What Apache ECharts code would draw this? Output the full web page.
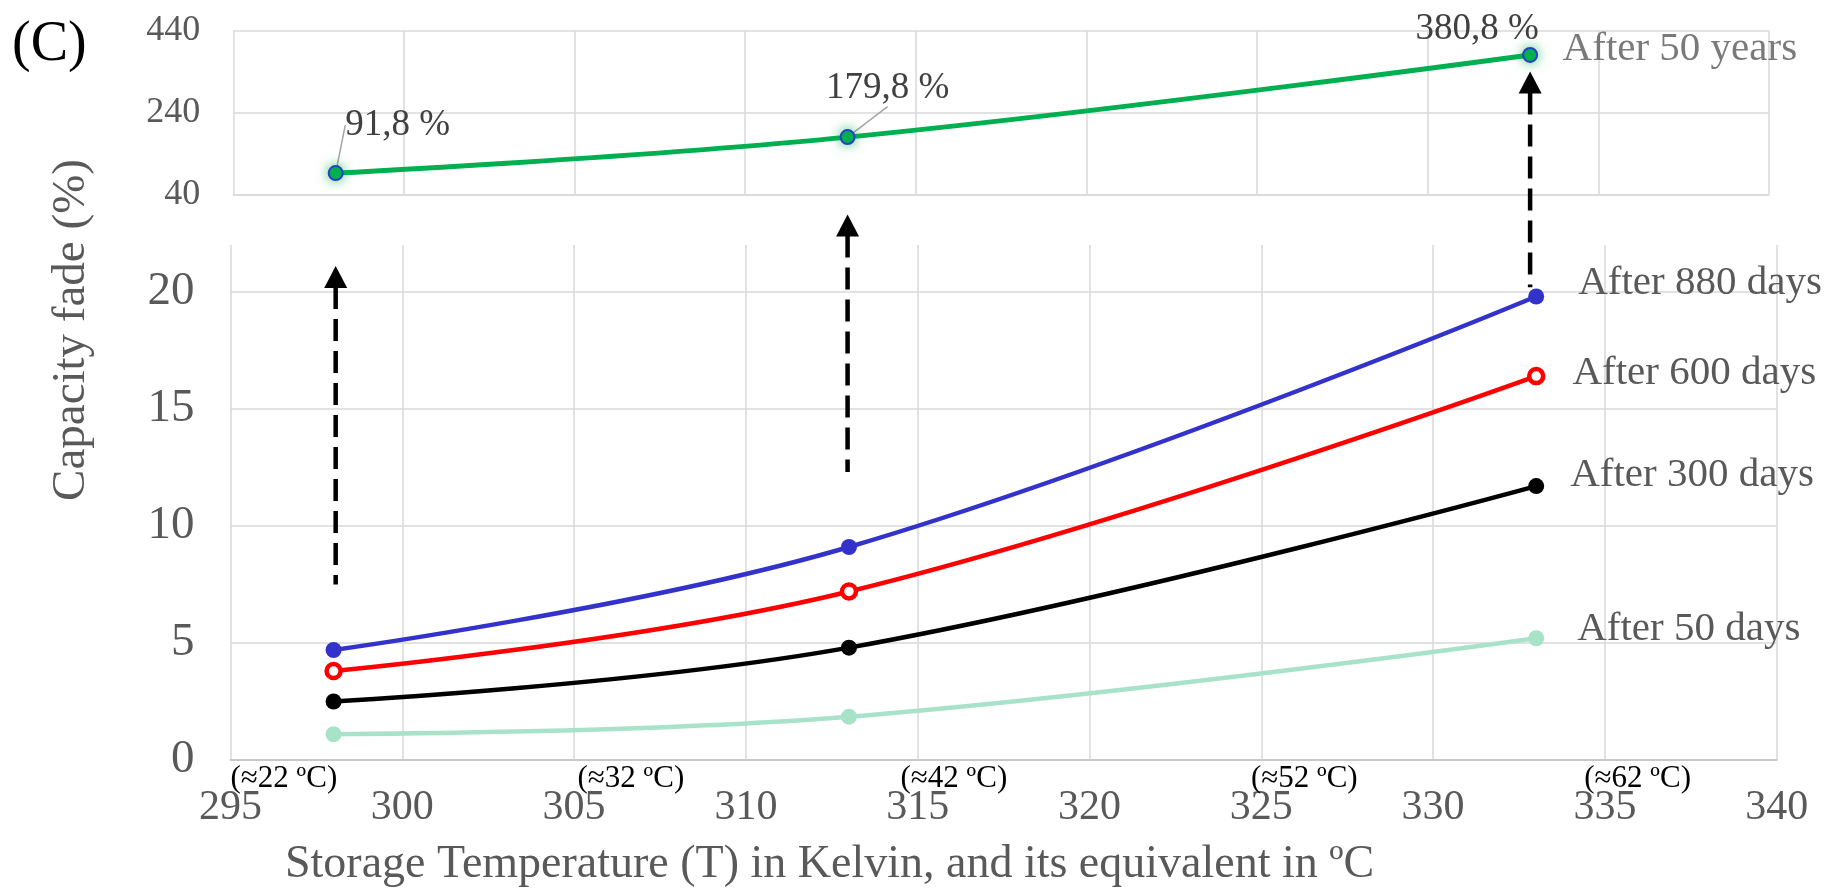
<!DOCTYPE html>
<html>
<head>
<meta charset="utf-8">
<script src="https://cdn.jsdelivr.net/npm/echarts@6/dist/echarts.min.js"></script>
<style>
  html, body { margin: 0; padding: 0; background: #ffffff; }
  #chart { width: 1834px; height: 890px; }
</style>
</head>
<body>
<div id="chart"></div>
<script>
// Storage temperatures (K) at which capacity fade was measured
const temperaturesK = [298, 313, 333];

// Capacity fade (%) per storage duration
const fade50Years = [91.8, 179.8, 380.8];
const fade880Days = [4.7, 9.1, 19.8];
const fade600Days = [3.8, 7.2, 16.4];
const fade300Days = [2.5, 4.8, 11.7];
const fade50Days  = [1.1, 1.85, 5.2];

// Celsius equivalents written under the Kelvin axis, and where each one starts (K)
const celsiusLabels = ['(\u224822 \u00baC)', '(\u224832 \u00baC)', '(\u224842 \u00baC)', '(\u224852 \u00baC)', '(\u224862 \u00baC)'];
const celsiusLabelAtK = [295, 305.1, 314.5, 324.7, 334.4];

// Dashed "extrapolation" arrows: x position, tail value (lower panel), tip value and its panel
const arrowX = [298, 313, 333];
const arrowTail = [7.5, 12.3, 20.2];
const arrowTip = [21.1, 23.3, 340];
const arrowTipPanel = [1, 1, 0];

const SERIF = '"Liberation Serif", "Times New Roman", serif';
const GRID_LINE = '#d9d9d9';
const LABEL_GREY = '#595959';

const chart = echarts.init(document.getElementById('chart'), null, { renderer: 'canvas' });

const pairs = (vals) => temperaturesK.map((t, i) => [t, vals[i]]);

function nameLabel(text, distance, dy) {
  return {
    show: true, position: 'right', distance: distance, offset: [0, dy],
    formatter: text, color: LABEL_GREY, fontFamily: SERIF, fontSize: 41
  };
}

function fadeSeries(name, vals, color, nameDist, nameDy, extra) {
  const data = pairs(vals).map((p, i) => {
    const item = { value: p };
    if (i === vals.length - 1) item.label = nameLabel(name, nameDist, nameDy);
    return item;
  });
  return Object.assign({
    type: 'line', name: name, xAxisIndex: 1, yAxisIndex: 1,
    data: data, smooth: 0.4, symbol: 'circle', symbolSize: 16,
    lineStyle: { color: color, width: 4.5 },
    itemStyle: { color: color },
    label: { show: false },
    z: 3
  }, extra || {});
}

const axisFont = { fontFamily: SERIF, color: LABEL_GREY };

const option = {
  animation: false,
  backgroundColor: '#ffffff',
  grid: [
    { left: 233.3, right: 65, top: 30.7, height: 163.6 },
    { left: 230.5, right: 57.3, top: 245, bottom: 130 }
  ],
  xAxis: [
    {
      type: 'value', gridIndex: 0, min: 295, max: 340, interval: 5,
      axisLabel: { show: false }, axisTick: { show: false },
      axisLine: { show: true, lineStyle: { color: GRID_LINE, width: 1.5 } },
      splitLine: { show: true, lineStyle: { color: GRID_LINE, width: 1.5 } }
    },
    {
      type: 'value', gridIndex: 1, min: 295, max: 340, interval: 5,
      axisLabel: Object.assign({ fontSize: 42, margin: 27 }, axisFont),
      axisTick: { show: false },
      axisLine: { show: true, lineStyle: { color: '#c8c8c8', width: 2 } },
      splitLine: { show: true, lineStyle: { color: GRID_LINE, width: 1.5 } }
    }
  ],
  yAxis: [
    {
      type: 'value', gridIndex: 0, min: 40, max: 440, interval: 200,
      axisLabel: Object.assign({ fontSize: 36, margin: 33 }, axisFont),
      axisTick: { show: false }, axisLine: { show: false },
      splitLine: { show: true, lineStyle: { color: GRID_LINE, width: 1.5 } }
    },
    {
      type: 'value', gridIndex: 1, min: 0, max: 22, interval: 5,
      axisLabel: Object.assign({ fontSize: 47, margin: 36, showMaxLabel: false }, axisFont),
      axisTick: { show: false }, axisLine: { show: false },
      splitLine: { show: true, showMaxLine: false, lineStyle: { color: GRID_LINE, width: 1.5 } }
    }
  ],
  series: [
    {
      type: 'line', name: 'After 50 years', xAxisIndex: 0, yAxisIndex: 0,
      data: pairs(fade50Years).map((p, i) => (i === 2 ? { value: p, labelLine: { show: false } } : { value: p })),
      smooth: 0.4, symbol: 'circle', symbolSize: 14,
      lineStyle: { color: '#00b050', width: 5 },
      itemStyle: {
        color: '#00b050', borderColor: '#2b3fc6', borderWidth: 2,
        shadowBlur: 12, shadowColor: 'rgba(0,176,80,0.65)'
      },
      label: {
        show: true, position: 'inside',
        formatter: (p) => p.value[1].toFixed(1).replace('.', ',') + ' %',
        color: '#404040', fontFamily: SERIF, fontSize: 37
      },
      labelLayout: (params) => {
        const shifts = [[62, -48], [40, -49], [-53, -26]];
        return { dx: shifts[params.dataIndex][0], dy: shifts[params.dataIndex][1] };
      },
      labelLine: { show: true, lineStyle: { color: '#a6a6a6', width: 1.5 } },
      z: 3
    },
    {
      // carries the duration name next to the last 50-year point
      type: 'scatter', xAxisIndex: 0, yAxisIndex: 0, silent: true,
      data: [{ value: [temperaturesK[2], fade50Years[2]], label: nameLabel('After 50 years', 32, -6) }],
      symbolSize: 1, itemStyle: { color: 'rgba(0,0,0,0)' }, z: 2
    },
    fadeSeries('After 880 days', fade880Days, '#3333cc', 34, -13),
    fadeSeries('After 600 days', fade600Days, '#ff0000', 27, -3, {
      symbolSize: 14,
      itemStyle: { color: '#ffffff', borderColor: '#ff0000', borderWidth: 4.5 }
    }),
    fadeSeries('After 300 days', fade300Days, '#000000', 26, -11),
    fadeSeries('After 50 days', fade50Days, '#a8e3c9', 33, -9)
  ]
};

chart.setOption(option);

// Titles, Celsius equivalents and arrows placed from the axes' own scales
const zeroY = chart.convertToPixel({ yAxisIndex: 1 }, 0);
const graphics = [
  {
    type: 'text', x: 12, y: 45,
    style: { text: '(C)', fontFamily: SERIF, fontSize: 56, fill: '#000000', align: 'left', verticalAlign: 'middle' }
  },
  {
    type: 'text', x: 72, y: 330, rotation: Math.PI / 2,
    style: { text: 'Capacity fade (%)', fontFamily: SERIF, fontSize: 47, fill: LABEL_GREY, align: 'center', verticalAlign: 'middle' }
  },
  {
    type: 'text', x: 285, y: 865,
    style: { text: 'Storage Temperature (T) in Kelvin, and its equivalent in \u00baC', fontFamily: SERIF, fontSize: 46, fill: LABEL_GREY, align: 'left', verticalAlign: 'middle' }
  }
];

celsiusLabels.forEach((t, i) => {
  graphics.push({
    type: 'text', x: chart.convertToPixel({ xAxisIndex: 1 }, celsiusLabelAtK[i]), y: zeroY + 19,
    style: { text: t, fontFamily: SERIF, fontSize: 31, fill: '#000000', align: 'left', verticalAlign: 'middle' },
    z: 10
  });
});

const headLen = 22, headHalf = 11.5;
arrowX.forEach((x, i) => {
  const px = chart.convertToPixel({ xAxisIndex: 0 }, x);
  const tailY = chart.convertToPixel({ yAxisIndex: 1 }, arrowTail[i]);
  const tipY = chart.convertToPixel({ yAxisIndex: arrowTipPanel[i] }, arrowTip[i]);
  graphics.push({
    type: 'line', z: 20,
    shape: { x1: px, y1: tipY + headLen - 1, x2: px, y2: tailY },
    style: { stroke: '#000000', lineWidth: 4.5, lineDash: [22, 10] }
  });
  graphics.push({
    type: 'polygon', z: 20,
    shape: { points: [[px, tipY], [px - headHalf, tipY + headLen], [px + headHalf, tipY + headLen]] },
    style: { fill: '#000000' }
  });
});

chart.setOption({ graphic: graphics });
</script>
</body>
</html>
